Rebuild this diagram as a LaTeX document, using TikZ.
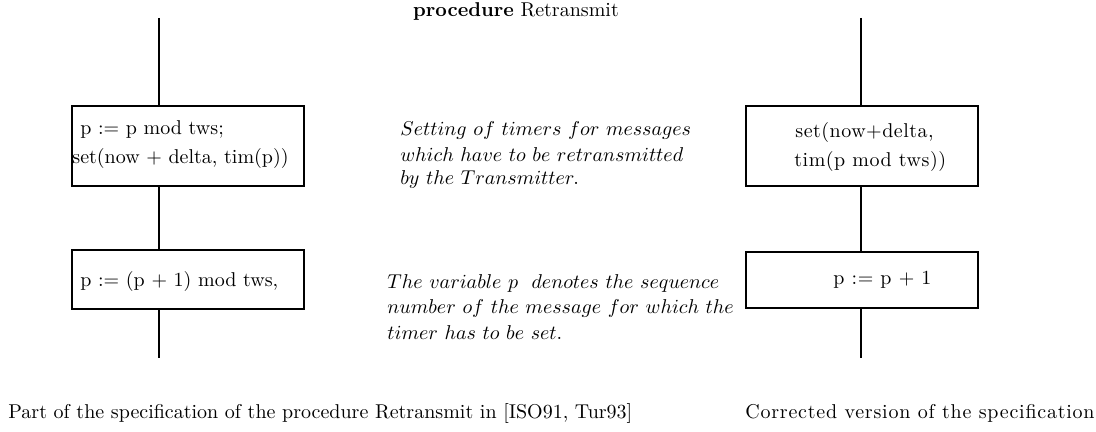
\documentclass[tikz,border=0pt]{standalone}
\usepackage{fontspec}
\setmainfont{Latin Modern Roman}
\newfontfamily\spacedA[LetterSpace=2.5]{Latin Modern Roman}
\newfontfamily\spacedB[LetterSpace=3.8]{Latin Modern Roman}
\begin{document}
\begin{tikzpicture}[x=0.5pt,y=-0.5pt,
  blk/.style={draw,line width=1pt,minimum width=116pt,inner sep=0pt,outer sep=0pt},
  txt/.style={inner sep=0pt,anchor=west,font=\normalsize},
  rtxt/.style={txt,font=\spacedA},
  note/.style={inner sep=0pt,anchor=west,align=left},
  flow/.style={line width=1pt}]
\useasboundingbox (0,0) rectangle (1096,432);
% title
\node[inner sep=0pt] (title) at (516,12) {\textbf{procedure} Retransmit};
% left column
\coordinate (ltop) at (159,18);
\node[blk,minimum height=40pt] (l1) at (188,146) {};
\node[blk,minimum height=29.5pt] (l2) at (188,279.5) {};
\coordinate (lbot) at (159,358);
\node[txt] (l1a) at (80,130) {p := p mod tws;};
\node[txt] (l1b) at (72,159) {set(now + delta, tim(p))};
\node[txt] (l2a) at (80,282) {p := (p + 1) mod tws,};
\draw[flow] (ltop) -- (ltop |- l1.north);
\draw[flow] (ltop |- l1.south) -- (ltop |- l2.north);
\draw[flow] (ltop |- l2.south) -- (lbot);
% right column
\coordinate (rtop) at (861,18);
\node[blk,minimum height=40pt] (r1) at (862,146) {};
\node[blk,minimum height=28pt] (r2) at (862,280) {};
\coordinate (rbot) at (861,358);
\node[rtxt] (r1a) at (795,133) {set(now+delta,};
\node[rtxt] (r1b) at (794,162) {tim(p mod tws))};
\node[rtxt] (r2a) at (833,280) {p := p + 1};
\draw[flow] (rtop) -- (rtop |- r1.north);
\draw[flow] (rtop |- r1.south) -- (rtop |- r2.north);
\draw[flow] (rtop |- r2.south) -- (rbot);
% notes
\node[note] (n1a) at (400,131) {$Setting\ of\ timers\ for\ messages$};
\node[note] (n1b) at (400,155) {$which\ have\ to\ be\ retransmitted$};
\node[note] (n1c) at (400,180) {$by\ the\ Transmitter.$};
\node[note] (n2a) at (387,284) {$The\ variable\ p\ \ denotes\ the\ sequence$};
\node[note] (n2b) at (387,309) {$number\ of\ the\ message\ for\ which\ the$};
\node[note] (n2c) at (387,333) {$timer\ has\ to\ be\ set.$};
% captions
\node[note] (c1) at (8,413) {Part of the specification of the procedure Retransmit in [ISO91, Tur93]};
\node[note,font=\spacedB] (c2) at (745,413) {Corrected version of the specification};
\end{tikzpicture}
\end{document}
